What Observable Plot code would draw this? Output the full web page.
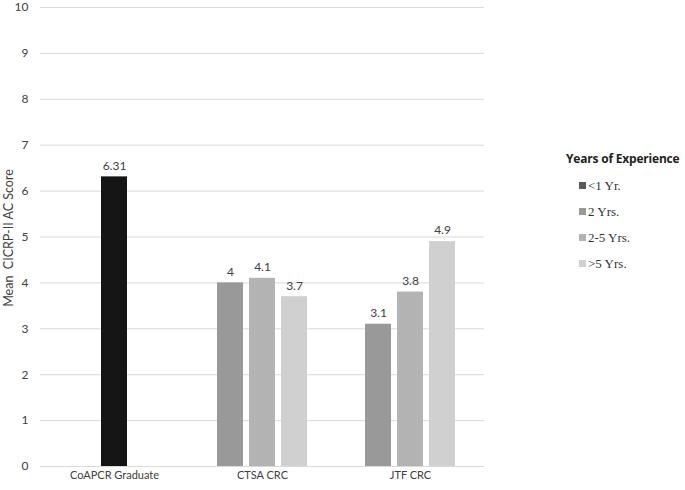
<!DOCTYPE html>
<html>
<head>
<meta charset="utf-8">
<script src="https://cdn.jsdelivr.net/npm/d3@7"></script>
<script src="https://cdn.jsdelivr.net/npm/@observablehq/plot@0.6"></script>
<style>
  body { margin: 0; background: #fff; }
  #wrap { position: relative; width: 685px; height: 490px; }
  #legend { position: absolute; left: 566px; top: 150px; }
  #legend .title { font-family: "Open Sans", sans-serif; font-weight: bold; font-size: 12px; color: #222; margin-bottom: 6px; letter-spacing: -0.2px; }
  #legend .item { font-family: "Liberation Serif", serif; font-size: 13px; color: #333; height: 26px; line-height: 26px; padding-left: 13px; }
  #legend .sw { display: inline-block; width: 7px; height: 7px; margin-right: 2px; vertical-align: 1px; }
</style>
</head>
<body>
<div id="wrap"><div id="chart"></div><div id="legend"></div></div>
<script>
const categories = ["CoAPCR Graduate", "CTSA CRC", "JTF CRC"];
const series = ["<1 Yr.", "2 Yrs.", "2-5 Yrs.", ">5 Yrs."];
const coapcrValues = [6.31, null, null, null];
const ctsaValues = [null, 4, 4.1, 3.7];
const jtfValues = [null, 3.1, 3.8, 4.9];
const yTicks = [0, 1, 2, 3, 4, 5, 6, 7, 8, 9, 10];
const barColors = ["#151515", "#999999", "#b3b3b3", "#d0d0d0"];
const legendColors = ["#5a5a5a", "#999999", "#b3b3b3", "#d0d0d0"];

const valueRows = [coapcrValues, ctsaValues, jtfValues];
const data = [];
categories.forEach((c, ci) => {
  const present = series.map((s, si) => ({s, si, v: valueRows[ci][si]})).filter(d => d.v != null);
  const n = present.length;
  present.forEach((d, i) => {
    data.push({category: c, series: d.s, value: d.v, slot: i - (n - 1) / 2 + 1});
  });
});

const chart = Plot.plot({
  width: 685,
  height: 490,
  marginLeft: 40,
  marginRight: 201,
  marginTop: 7,
  marginBottom: 24,
  style: {fontFamily: "Lato, sans-serif", fontSize: "12px", color: "#404040"},
  fx: {domain: categories, padding: 0, label: null, axis: null},
  x: {domain: [0, 1, 2], paddingInner: 0.2, paddingOuter: 0.88, axis: null},
  y: {domain: [0, 10], ticks: yTicks, label: null},
  color: {domain: series, range: barColors},
  marks: [
    Plot.ruleY(yTicks, {stroke: "#d9d9d9", strokeWidth: 1}),
    Plot.axisY(yTicks, {tickSize: 0, tickPadding: 12, fontSize: 12, fill: "#404040"}),
    Plot.axisFx({anchor: "bottom", tickSize: 0, tickPadding: 5, fontSize: 11, fill: "#404040", label: null}),
    Plot.barY(data, {fx: "category", x: "slot", y: "value", fill: "series"}),
    Plot.text(data, {fx: "category", x: "slot", y: "value", text: d => String(d.value), dy: -11, fontSize: 12, fill: "#404040"})
  ]
});
document.getElementById("chart").append(chart);

const svg = d3.select(chart);
svg.append("text")
  .attr("transform", "translate(13,238) rotate(-90)")
  .attr("text-anchor", "middle")
  .attr("font-family", "Lato, sans-serif")
  .attr("font-size", 12.5)
  .attr("fill", "#404040")
  .attr("xml:space", "preserve")
  .text("Mean  CICRP-II AC Score");

const legend = d3.select("#legend");
legend.append("div").attr("class", "title").text("Years of Experience");
series.forEach((s, i) => {
  const item = legend.append("div").attr("class", "item");
  item.append("span").attr("class", "sw").style("background", legendColors[i]);
  item.append("span").text(s);
});
</script>
</body>
</html>
